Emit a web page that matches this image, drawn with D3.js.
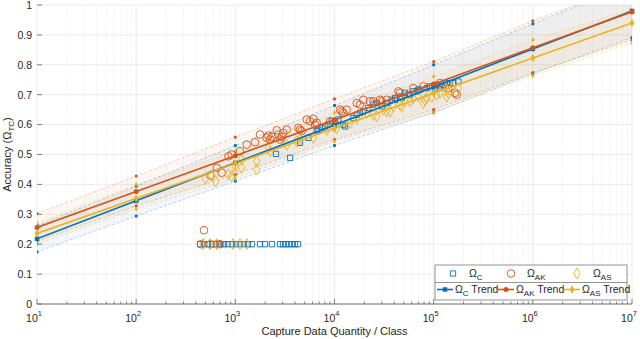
<!DOCTYPE html>
<html><head><meta charset="utf-8">
<script src="https://cdn.jsdelivr.net/npm/d3@7"></script>
<style>body{margin:0;background:#fff}svg{display:block;font-family:"Liberation Sans",Arial,sans-serif}</style>
</head><body><svg id="c" width="640" height="339"></svg>
<script>
// ---------- DATA ----------
const decades = [10, 100, 1e3, 1e4, 1e5, 1e6, 1e7];
const yTicks = [0, 0.1, 0.2, 0.3, 0.4, 0.5, 0.6, 0.7, 0.8, 0.9, 1];
const yTickLabels = ["0","0.1","0.2","0.3","0.4","0.5","0.6","0.7","0.8","0.9","1"];
const xTickExp = [1, 2, 3, 4, 5, 6, 7];

const trendC  = [0.218, 0.345, 0.472, 0.599, 0.726, 0.853, 0.980];
const upperC  = [0.263, 0.394, 0.530, 0.664, 0.800, 0.937, 1.070];
const lowerC  = [0.174, 0.294, 0.411, 0.530, 0.640, 0.770, 0.891];
const trendAK = [0.256, 0.376, 0.496, 0.616, 0.736, 0.857, 0.977];
const upperAK = [0.302, 0.428, 0.558, 0.686, 0.811, 0.947, 1.070];
const lowerAK = [0.210, 0.328, 0.433, 0.550, 0.650, 0.774, 0.883];
const trendAS = [0.236, 0.353, 0.470, 0.588, 0.705, 0.823, 0.940];
const upperAS = [0.270, 0.400, 0.510, 0.640, 0.761, 0.883, 0.985];
const lowerAS = [0.200, 0.317, 0.420, 0.544, 0.640, 0.763, 0.874];

const omegaC = [
 [2570,0.502],[3565,0.489],[4487,0.539],[5458,0.556],[6607,0.578],[6871,0.583],[7430,0.589],
 [8035,0.594],[8670,0.600],[9376,0.611],[10116,0.611],[10940,0.617],[12274,0.600],[12764,0.594],
 [15488,0.622],[16749,0.633],[18072,0.639],[19543,0.644],[21928,0.656],[24660,0.667],[26669,0.672],
 [29923,0.661],[33574,0.672],[37757,0.683],[40738,0.689],[45814,0.694],[51404,0.706],[55590,0.700],
 [62373,0.711],[70146,0.717],[47534,0.689],[57810,0.700],[67453,0.711],[72778,0.717],[85114,0.722],
 [91833,0.728],[103276,0.722],[107152,0.733],[115878,0.728],[125314,0.733],[135207,0.739],
 [146218,0.739],[157761,0.739],[177419,0.744],[40738,0.683],
 // plateau at 0.2
 [441,0.2],[483,0.2],[530,0.2],[582,0.2],[638,0.2],[700,0.2],[769,0.2],[843,0.2],[925,0.2],
 [1016,0.2],[1114,0.2],[1222,0.2],[1342,0.2],[1472,0.2],[1773,0.2],[1991,0.2],[2344,0.2],
 [2820,0.2],[3025,0.2],[3243,0.2],[3478,0.2],[3728,0.2],[3998,0.2],[4287,0.2]
];
const omegaAK = [
 [560,0.430],[650,0.455],[728,0.439],[851,0.494],[918,0.500],[1114,0.511],[1303,0.533],[1581,0.541],
 [1774,0.567],[2070,0.556],[2153,0.563],[2239,0.550],[2328,0.559],[2612,0.581],[2716,0.567],
 [2825,0.550],[2938,0.559],[3048,0.572],[3296,0.583],[4325,0.589],[4487,0.583],[4667,0.578],
 [5248,0.617],[5662,0.611],[6124,0.619],[6368,0.600],[6607,0.606],[9016,0.611],[11376,0.650],
 [11803,0.644],[12274,0.639],[13274,0.650],[16749,0.672],[18072,0.667],[19543,0.683],[22803,0.678],
 [24660,0.678],[28774,0.683],[29923,0.678],[33574,0.683],[44055,0.711],[45814,0.706],[62373,0.722],
 [78705,0.728],[115878,0.739],[140605,0.722],[164059,0.706],[170608,0.700],
 [483,0.247],[450,0.2],[560,0.2],[650,0.2],[700,0.2]
];
const omegaAS = [
 [501,0.420],[575,0.430],[631,0.410],[851,0.433],[918,0.428],[993,0.439],[993,0.461],[1159,0.483],
 [1159,0.456],[1641,0.478],[1641,0.450],[2153,0.522],[2239,0.511],[3296,0.533],[4159,0.544],
 [4487,0.550],[6124,0.556],[8337,0.583],[9727,0.594],[10520,0.589],[14355,0.606],[16749,0.622],
 [21135,0.639],[24660,0.633],[26669,0.628],[33574,0.644],[39264,0.661],[45814,0.667],[51404,0.678],
 [62373,0.689],[70146,0.694],[31117,0.650],[36308,0.644],[47534,0.661],[57810,0.678],[78705,0.672],
 [81658,0.683],[85114,0.689],[95499,0.694],[107152,0.700],[115878,0.706],[135207,0.717],
 [140605,0.706],[152055,0.722],[177419,0.722],[135207,0.694],
 [472,0.2],[554,0.2],[650,0.2],[947,0.2],[1114,0.2],[1306,0.2]
];

// ---------- CHART ----------
const svg = d3.select("#c");
const L = 37, R = 632, T = 5, B = 304;
const x = d3.scaleLog().domain([10, 1e7]).range([L, R]);
const y = d3.scaleLinear().domain([0, 1]).range([B, T]);
const colC = "#0072BD", colAK = "#D95319", colAS = "#EDB120";
const ink = "#262626";

svg.append("defs").append("clipPath").attr("id","clip")
  .append("rect").attr("x",L).attr("y",T).attr("width",R-L).attr("height",B-T);

// grid
const grid = svg.append("g");
const minor = [];
for (let e = 1; e < 7; e++) for (let k = 2; k <= 9; k++) minor.push(k * Math.pow(10, e));
grid.selectAll(".mn").data(minor).enter().append("line")
  .attr("x1", d => x(d)).attr("x2", d => x(d)).attr("y1", T).attr("y2", B)
  .attr("stroke", "#e3e3e3").attr("stroke-width", 0.6).attr("stroke-dasharray", "1.5,1.5");
grid.selectAll(".mj").data(decades).enter().append("line")
  .attr("x1", d => x(d)).attr("x2", d => x(d)).attr("y1", T).attr("y2", B)
  .attr("stroke", "#e6e6e6").attr("stroke-width", 0.8);
grid.selectAll(".hy").data(yTicks).enter().append("line")
  .attr("x1", L).attr("x2", R).attr("y1", d => y(d)).attr("y2", d => y(d))
  .attr("stroke", "#e6e6e6").attr("stroke-width", 0.8);

const plot = svg.append("g").attr("clip-path", "url(#clip)");

const series = [
  {col: colC,  tr: trendC,  up: upperC,  lo: lowerC,  pts: omegaC,  shape: d3.symbolSquare},
  {col: colAK, tr: trendAK, up: upperAK, lo: lowerAK, pts: omegaAK, shape: d3.symbolCircle},
  {col: colAS, tr: trendAS, up: upperAS, lo: lowerAS, pts: omegaAS, shape: d3.symbolDiamond}
];

// bands
series.forEach(s => {
  const area = d3.area().x((d,i) => x(decades[i])).y0((d,i) => y(s.lo[i])).y1((d,i) => y(s.up[i]));
  plot.append("path").datum(decades).attr("d", area).attr("fill", s.col).attr("fill-opacity", 0.055);
});
series.forEach(s => {
  [s.up, s.lo].forEach(arr => {
    const ln = d3.line().x((d,i) => x(decades[i])).y(d => y(d));
    plot.append("path").datum(arr).attr("d", ln).attr("fill","none")
      .attr("stroke", s.col).attr("stroke-opacity", 0.35).attr("stroke-width", 0.8)
      .attr("stroke-dasharray", "3,2");
    plot.selectAll(null).data(arr).enter().append("path")
      .attr("transform", (d,i) => `translate(${x(decades[i])},${y(d)})`)
      .attr("d", d3.symbol().type(s.shape).size(8)).attr("fill", s.col);
  });
});

// scatter
const hollow = {
  [colC]: d3.symbol().type(d3.symbolSquare).size(28),
  [colAK]: d3.symbol().type(d3.symbolCircle).size(46),
  [colAS]: d3.symbol().type(d3.symbolDiamond).size(36)
};
series.forEach(s => {
  plot.selectAll(null).data(s.pts).enter().append("path")
    .attr("transform", d => `translate(${x(d[0])},${y(d[1])})`)
    .attr("d", hollow[s.col]).attr("fill", "none").attr("stroke", s.col).attr("stroke-width", 0.9);
});

// trend lines
series.forEach(s => {
  const ln = d3.line().x((d,i) => x(decades[i])).y(d => y(d));
  plot.append("path").datum(s.tr).attr("d", ln).attr("fill","none")
    .attr("stroke", s.col).attr("stroke-width", 1.6);
});
series.forEach(s => {
  svg.selectAll(null).data(s.tr).enter().append("path")
    .attr("transform", (d,i) => `translate(${x(decades[i])},${y(d)})`)
    .attr("d", d3.symbol().type(s.shape).size(20)).attr("fill", s.col);
});

// axes
const ax = svg.append("g");
ax.append("line").attr("x1", L).attr("x2", R).attr("y1", B).attr("y2", B)
  .attr("stroke", "#666").attr("stroke-width", 0.9);
ax.selectAll(".tx").data(decades).enter().append("line")
  .attr("x1", d => x(d)).attr("x2", d => x(d)).attr("y1", B).attr("y2", B - 5)
  .attr("stroke", "#666").attr("stroke-width", 0.8);
ax.selectAll(".tm").data(minor).enter().append("line")
  .attr("x1", d => x(d)).attr("x2", d => x(d)).attr("y1", B).attr("y2", B - 2.5)
  .attr("stroke", "#666").attr("stroke-width", 0.8);
ax.selectAll(".ty").data(yTicks).enter().append("line")
  .attr("x1", L).attr("x2", L + 5).attr("y1", d => y(d)).attr("y2", d => y(d))
  .attr("stroke", "#666").attr("stroke-width", 0.8);

ax.selectAll(".yl").data(yTicks).enter().append("text")
  .attr("x", L - 5).attr("y", d => y(d) + 3.8).attr("text-anchor", "end")
  .attr("font-size", 10.5).attr("fill", ink).text((d,i) => yTickLabels[i]);

const xl = ax.selectAll(".xl").data(xTickExp).enter().append("text")
  .attr("x", d => x(Math.pow(10, d)) - 3).attr("y", 322).attr("text-anchor", "middle")
  .attr("font-size", 10.5).attr("fill", ink);
xl.append("tspan").text("10");
xl.append("tspan").attr("dy", -6).attr("font-size", 7.5).text(d => d);

svg.append("text").attr("x", (L + R) / 2).attr("y", 335).attr("text-anchor", "middle")
  .attr("font-size", 11).attr("fill", ink).text("Capture Data Quantity / Class");

const yt = svg.append("text").attr("transform", `translate(11,${(T + B) / 2}) rotate(-90)`)
  .attr("text-anchor", "middle").attr("font-size", 11).attr("fill", ink);
yt.append("tspan").text("Accuracy (Ω");
yt.append("tspan").attr("dy", 3).attr("font-size", 8).text("TC");
yt.append("tspan").attr("dy", -3).text(")");

// legend
const lg = svg.append("g");
lg.append("rect").attr("x", 435).attr("y", 265).attr("width", 192).attr("height", 35)
  .attr("fill", "#fff").attr("stroke", "#666").attr("stroke-width", 0.7);
lg.append("line").attr("x1", 435).attr("x2", 627).attr("y1", 282.5).attr("y2", 282.5)
  .attr("stroke", "#666").attr("stroke-width", 0.7);
const names = ["C", "AK", "AS"];
const row1 = [[453, 469], [511, 527], [577, 593]];
series.forEach((s, i) => {
  lg.append("path").attr("transform", `translate(${row1[i][0]},273.5)`)
    .attr("d", hollow[s.col]).attr("fill", "none").attr("stroke", s.col).attr("stroke-width", 0.9);
  const t = lg.append("text").attr("x", row1[i][1]).attr("y", 277).attr("font-size", 10.5).attr("fill", ink);
  t.append("tspan").text("Ω");
  t.append("tspan").attr("dy", 3).attr("font-size", 8).text(names[i]);
});
const row2 = [[437, 453, 455], [498, 514, 516], [564, 580, 582]];
series.forEach((s, i) => {
  const r = row2[i];
  lg.append("line").attr("x1", r[0]).attr("x2", r[1]).attr("y1", 289.5).attr("y2", 289.5)
    .attr("stroke", s.col).attr("stroke-width", 1.6);
  lg.append("path").attr("transform", `translate(${(r[0] + r[1]) / 2},289.5)`)
    .attr("d", d3.symbol().type(s.shape).size(20)).attr("fill", s.col);
  const t = lg.append("text").attr("x", r[2]).attr("y", 293).attr("font-size", 10.5).attr("fill", ink);
  t.append("tspan").text("Ω");
  t.append("tspan").attr("dy", 3).attr("font-size", 8).text(names[i]);
  t.append("tspan").attr("dy", -3).text(" Trend");
});
</script></body></html>
